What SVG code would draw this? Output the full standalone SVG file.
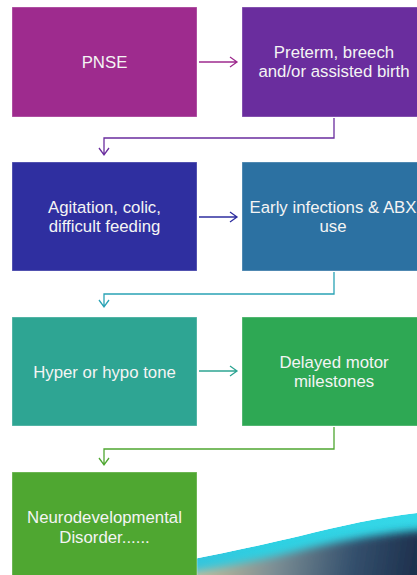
<svg xmlns="http://www.w3.org/2000/svg" width="417" height="575" viewBox="0 0 417 575">
<defs>
<style>
.box{stroke:#ffffff;stroke-opacity:0.35;stroke-width:1}
.t{font-family:"Liberation Sans",Arial,sans-serif;font-size:16.8px;fill:#f4f4f4;text-anchor:middle}
.c{fill:none;stroke-width:1.3;stroke-linejoin:miter}
</style>
<linearGradient id="cyan" x1="0" y1="0" x2="1" y2="0">
<stop offset="0" stop-color="#3ab8d8"/>
<stop offset="0.5" stop-color="#2ed0e2"/>
<stop offset="1" stop-color="#35d8e8"/>
</linearGradient>
<linearGradient id="dark" gradientUnits="userSpaceOnUse" x1="200" y1="540" x2="417" y2="575">
<stop offset="0" stop-color="#c9c09a"/>
<stop offset="0.35" stop-color="#7d8f95"/>
<stop offset="0.7" stop-color="#34506d"/>
<stop offset="1" stop-color="#1d2f4c"/>
</linearGradient>
<linearGradient id="fade" x1="0" y1="0" x2="1" y2="0">
<stop offset="0" stop-color="#ffffff" stop-opacity="0.6"/>
<stop offset="0.3" stop-color="#ffffff" stop-opacity="0"/>
</linearGradient>
<clipPath id="wclip"><path d="M112 575 C 180 562, 250 548, 300 536 C 340 526, 380 517, 417 513 L417 575 Z"/></clipPath>
<filter id="soft" x="-10%" y="-50%" width="120%" height="200%"><feGaussianBlur stdDeviation="4"/></filter>
</defs>
<rect width="417" height="575" fill="#ffffff"/>
<g id="wave" clip-path="url(#wclip)">
<path d="M112 575 C 180 562, 250 548, 300 536 C 340 526, 380 517, 417 513 L417 575 Z" fill="url(#cyan)"/>
<path d="M145 580 C 220 568, 270 558, 310 548 C 350 539, 385 533, 425 530 L425 590 L145 590 Z" fill="url(#dark)" filter="url(#soft)"/>
<path d="M112 575 C 180 562, 250 548, 300 536 L300 575 Z" fill="url(#fade)"/>
</g>
<g id="connectors">
<path class="c" stroke="#9e2b8e" d="M199 62 H237 M230 57 L237 62 L230 67"/>
<path class="c" stroke="#6a2d9e" d="M334 118 V138 H104 V155 M99 148 L104 155 L109 148"/>
<path class="c" stroke="#2f2fa0" d="M199 217 H237 M230 212 L237 217 L230 222"/>
<path class="c" stroke="#2aa3b5" d="M334 272 V294 H104 V307 M99 300 L104 307 L109 300"/>
<path class="c" stroke="#2ea593" d="M199 371 H237 M230 366 L237 371 L230 376"/>
<path class="c" stroke="#4fa731" d="M334 427 V449 H104 V465 M99 458 L104 465 L109 458"/>
</g>
<g id="n1"><rect class="box" x="12" y="7" width="185" height="110" fill="#9e2b8e"/><text class="t" x="104.5" y="68">PNSE</text></g>
<g id="n2"><rect class="box" x="242" y="7" width="180" height="110" fill="#6a2d9e"/><text class="t" x="334" y="58">Preterm, breech</text><text class="t" x="334" y="77">and/or assisted birth</text></g>
<g id="n3"><rect class="box" x="12" y="162" width="185" height="109" fill="#2f2fa0"/><text class="t" x="104.5" y="213">Agitation, colic,</text><text class="t" x="104.5" y="232">difficult feeding</text></g>
<g id="n4"><rect class="box" x="242" y="162" width="180" height="109" fill="#2c71a2"/><text class="t" x="333" y="213">Early infections &amp; ABX</text><text class="t" x="333" y="232">use</text></g>
<g id="n5"><rect class="box" x="12" y="317" width="185" height="109" fill="#2ea593"/><text class="t" x="104.5" y="378">Hyper or hypo tone</text></g>
<g id="n6"><rect class="box" x="242" y="317" width="180" height="109" fill="#2ea854"/><text class="t" x="334" y="368">Delayed motor</text><text class="t" x="334" y="387">milestones</text></g>
<g id="n7"><rect class="box" x="12" y="472" width="185" height="110" fill="#4fa731"/><text class="t" x="104.5" y="523">Neurodevelopmental</text><text class="t" x="104.5" y="543">Disorder......</text></g>
</svg>
